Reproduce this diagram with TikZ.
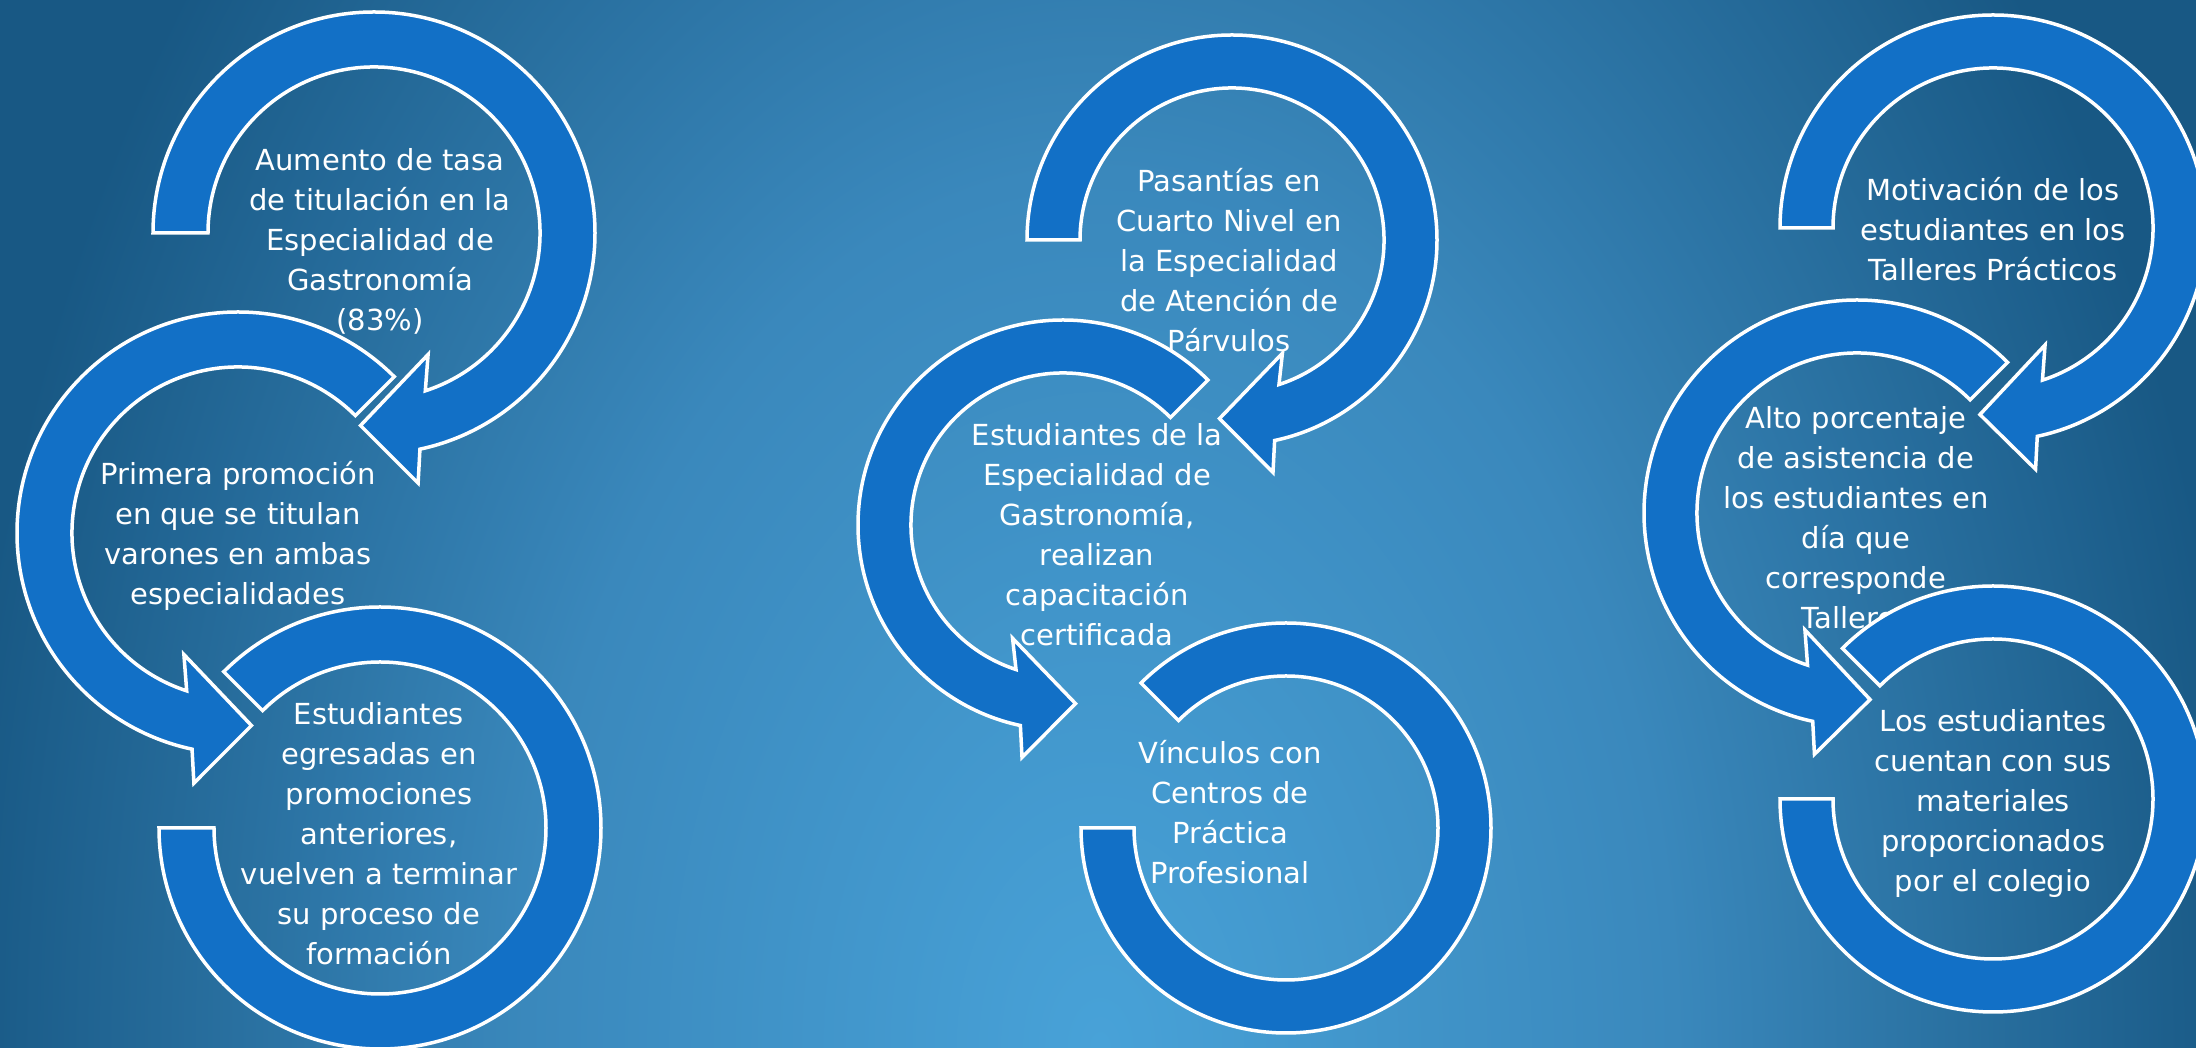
\documentclass[tikz,border=0pt]{standalone}
\usepackage{fontspec}
\setmainfont{DejaVu Sans}
\usepackage{xcolor}
\usepackage{tikz}
\usetikzlibrary{calc}

\definecolor{bglight}{RGB}{72,162,216}
\definecolor{bgmid}{RGB}{58,136,188}
\definecolor{bgdark}{RGB}{24,88,132}
\definecolor{bandblue}{RGB}{18,112,198}
\pgfdeclareradialshading{bgshade}{\pgfpoint{0bp}{0bp}}{color(0bp)=(bglight); color(12.5bp)=(bgmid); color(25bp)=(bgdark); color(50bp)=(bgdark)}

\tikzset{
    arrowband/.style={fill=bandblue, draw=white, line width=3.5pt, line join=miter},
    bandtext/.style={text=white, align=center, inner sep=0pt, font=\fontsize{29pt}{40pt}\selectfont}
}

\begin{document}
\begin{tikzpicture}[x=1pt, y=1pt]
    \useasboundingbox (0,0) rectangle (2196,1048);
    \begin{scope}
    \clip (0,0) rectangle (2196,1048);
    \fill[bgdark] (0,0) rectangle (2196,1048);
    \shade[shading=bgshade] (1100,0) ellipse [x radius=1150, y radius=1750];

    % centres of the three bands in each column
    \coordinate (a1) at (374,815);
    \coordinate (b1) at (238,515);
    \coordinate (c1) at (380,220);
    \coordinate (a2) at (1232,808);
    \coordinate (b2) at (1063,523);
    \coordinate (c2) at (1286,220);
    \coordinate (a3) at (1993,820);
    \coordinate (b3) at (1857,535);
    \coordinate (c3) at (1993,249);

    % first column
    \draw[arrowband] ($(a1)+(180:221)$) arc[start angle=180, end angle=-78, radius=221]
        -- ($(a1)+(-80:254)$) -- ($(a1)+(-94:193)$) -- ($(a1)+(-66:133)$)
        -- ($(a1)+(-72:166)$) arc[start angle=-72, end angle=180, radius=166] -- cycle;
    \draw[arrowband] ($(b1)+(45:221)$) arc[start angle=45, end angle=258, radius=221]
        -- ($(b1)+(260:254)$) -- ($(b1)+(274:193)$) -- ($(b1)+(246:133)$)
        -- ($(b1)+(252:166)$) arc[start angle=252, end angle=45, radius=166] -- cycle;

    \node[bandtext] (tasa) at (380,807) {Aumento de tasa\\de titulación en la\\Especialidad de\\Gastronomía\\(83\%)};
    \node[bandtext] (promocion) at (238,512) {Primera promoción\\en que se titulan\\varones en ambas\\especialidades};

    \draw[arrowband] ($(c1)+(135:221)$) arc[start angle=135, end angle=-180, radius=221]
        -- ($(c1)+(180:166)$) arc[start angle=-180, end angle=135, radius=166] -- cycle;
    \node[bandtext] (egresadas) at (379,214) {Estudiantes\\egresadas en\\promociones\\anteriores,\\vuelven a terminar\\su proceso de\\formación};

    % second column
    \draw[arrowband] ($(a2)+(180:205)$) arc[start angle=180, end angle=-78, radius=205]
        -- ($(a2)+(-80:236)$) -- ($(a2)+(-94:179)$) -- ($(a2)+(-66:124)$)
        -- ($(a2)+(-72:152)$) arc[start angle=-72, end angle=180, radius=152] -- cycle;
    \draw[arrowband] ($(b2)+(45:205)$) arc[start angle=45, end angle=258, radius=205]
        -- ($(b2)+(260:236)$) -- ($(b2)+(274:179)$) -- ($(b2)+(246:124)$)
        -- ($(b2)+(252:152)$) arc[start angle=252, end angle=45, radius=152] -- cycle;

    \node[bandtext] (pasantias) at (1229,788) {Pasantías en\\Cuarto Nivel en\\la Especialidad\\de Atención de\\Párvulos};
    \node[bandtext] (capacitacion) at (1097,513) {Estudiantes de la\\Especialidad de\\Gastronomía,\\realizan\\capacitación\\certificada};

    \draw[arrowband] ($(c2)+(135:205)$) arc[start angle=135, end angle=-180, radius=205]
        -- ($(c2)+(180:152)$) arc[start angle=-180, end angle=135, radius=152] -- cycle;
    \node[bandtext] (vinculos) at (1230,236) {Vínculos con\\Centros de\\Práctica\\Profesional};

    % third column
    \draw[arrowband] ($(a3)+(180:213)$) arc[start angle=180, end angle=-78, radius=213]
        -- ($(a3)+(-80:245)$) -- ($(a3)+(-94:187)$) -- ($(a3)+(-66:128)$)
        -- ($(a3)+(-72:160)$) arc[start angle=-72, end angle=180, radius=160] -- cycle;
    \draw[arrowband] ($(b3)+(45:213)$) arc[start angle=45, end angle=258, radius=213]
        -- ($(b3)+(260:245)$) -- ($(b3)+(274:187)$) -- ($(b3)+(246:128)$)
        -- ($(b3)+(252:160)$) arc[start angle=252, end angle=45, radius=160] -- cycle;

    \node[bandtext] (motivacion) at (1993,819) {Motivación de los\\estudiantes en los\\Talleres Prácticos};
    \node[bandtext] (asistencia) at (1856,530) {Alto porcentaje\\de asistencia de\\los estudiantes en\\día que\\corresponde\\Talleres};

    \draw[arrowband] ($(c3)+(135:213)$) arc[start angle=135, end angle=-180, radius=213]
        -- ($(c3)+(180:160)$) arc[start angle=-180, end angle=135, radius=160] -- cycle;
    \node[bandtext] (materiales) at (1993,244) {Los estudiantes\\cuentan con sus\\materiales\\proporcionados\\por el colegio};
    \end{scope}
\end{tikzpicture}
\end{document}
